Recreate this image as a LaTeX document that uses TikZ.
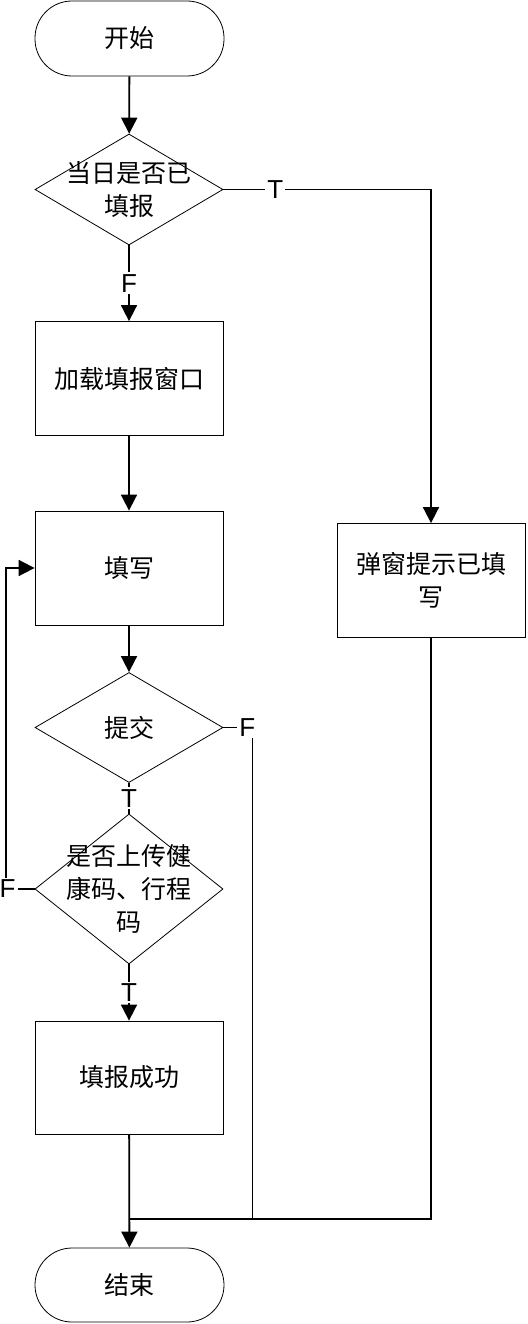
\documentclass[tikz,border=0pt]{standalone}
\usepackage{fontspec}
\setmainfont{Liberation Sans}
\newfontfamily\cjk{Noto Sans CJK SC}[FakeStretch=1.0]
\usetikzlibrary{shapes.geometric,arrows.meta}
\tikzset{
  shp/.style={draw, line width=0.8pt, inner sep=0pt, font=\cjk\fontsize{25}{33}\selectfont, align=center},
  term/.style={shp, rounded corners=37pt, minimum width=189pt, minimum height=75pt},
  proc/.style={shp, rectangle, minimum width=188pt, minimum height=114pt},
  dec/.style={shp, diamond, minimum width=188pt},
  txt/.style={inner sep=0pt, font=\cjk\fontsize{25}{33}\selectfont, align=center},
  conn/.style={line width=1.8pt},
  arr/.style={conn, -{Triangle[width=16pt,length=16pt]}},
  lab/.style={fill=white, inner sep=2pt, font=\fontsize{26}{28}\selectfont}
}
\begin{document}
\begin{tikzpicture}[x=1pt,y=-1pt]
\useasboundingbox (0,0) rectangle (527,1324);
\node[term] (start) at (129.5,38.5) {开始};
\node[dec, minimum height=111pt] (d1) at (129,189.5) {};
\node[txt] (d1t) at (d1) {当日是否已\\填报};
\node[proc] (b2) at (129,378.5) {加载填报窗口};
\node[proc] (b3) at (129,568) {填写};
\node[dec, minimum height=110pt] (d2) at (129,727.5) {};
\node[txt] (d2t) at (d2) {提交};
\node[dec, minimum height=150pt] (d3) at (129,889) {};
\node[txt] (d3t) at (d3) {是否上传健\\康码、行程\\码};
\node[proc, minimum height=113pt] (b4) at (129,1077.5) {填报成功};
\node[term, minimum height=74pt] (end) at (129.5,1285) {结束};
\node[proc, minimum width=188pt] (rb) at (431,580.5) {弹窗提示已填\\写};
\coordinate (m) at (129,1219);

\draw[arr] (start) -- (d1);
\draw[arr] (d1) -- node[lab] {F} (b2);
\draw[arr] (d1.east) -| node[lab, pos=0.125] {T} (rb.north);
\draw[arr] (b2) -- (b3);
\draw[arr] (b3) -- (d2);
\draw[conn] (d2) -- node[lab] {T} (d3);
\draw[arr] (d3) -- node[lab] {T} (b4);
\draw[arr] (d3.west) -- ++(-29,0) node[lab, xshift=2pt] {F} |- (b3.west);
\draw[conn] (d2.east) -- ++(29,0) node[lab, xshift=-5pt] {F} |- (m);
\draw[conn] (rb.south) |- (m);
\draw[arr] (b4) -- (end);
\end{tikzpicture}
\end{document}
